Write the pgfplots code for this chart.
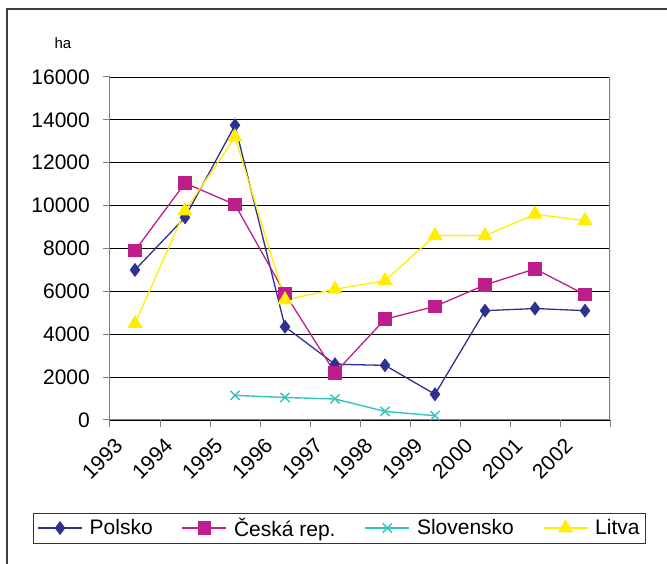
\documentclass[border=0pt]{standalone}
\usepackage{pgfplots}
\pgfplotsset{compat=1.18}
\usepackage{fontspec}
\setmainfont{Liberation Sans}
\definecolor{cpl}{RGB}{46,49,146}
\definecolor{ccz}{RGB}{190,30,140}
\definecolor{csk}{RGB}{51,196,190}
\definecolor{clt}{RGB}{255,238,0}
\begin{document}
\begin{tikzpicture}
\path[use as bounding box] (0,0) rectangle (667pt,564pt);
\draw[line width=1.3pt, black!75] (7pt,-5pt) -- (7pt,555pt) -- (680pt,555pt);
\node[font=\fontsize{15}{18}\selectfont] at (63pt,521pt) {ha};
\begin{axis}[
  at={(110pt,144pt)}, anchor=south west,
  scale only axis, width=500pt, height=343pt,
  xmin=0, xmax=10, ymin=0, ymax=16000,
  axis x line*=bottom, axis y line*=left,
  axis line style={draw=gray, line width=1pt},
  xtick={0,1,2,3,4,5,6,7,8,9,10},
  xticklabels={1993,1994,1995,1996,1997,1998,1999,2000,2001,2002,{}},
  ytick={0,2000,4000,6000,8000,10000,12000,14000,16000},
  scaled y ticks=false,
  ymajorgrids, major grid style={black, line width=0.9pt},
  tick align=outside, major tick length=7pt, tick style={gray, line width=1pt},
  /pgf/number format/assume math mode=true,
  /pgf/number format/1000 sep={},
  tick label style={font=\fontsize{21}{25}\selectfont},
  yticklabel style={inner sep=0pt, xshift=-13pt},
  xticklabel style={inner sep=0pt, xshift=9pt, yshift=-15pt, rotate=45, anchor=east},
  legend columns=4,
  legend style={at={(axis description cs:0.459,-0.315)}, anchor=center,
    draw=black!80, line width=0.8pt, font=\fontsize{21}{25}\selectfont,
    inner xsep=4pt, inner ysep=3pt,
    /tikz/every even column/.append style={column sep=27pt}},
  legend image code/.code={\draw[mark repeat=2,mark phase=2] plot coordinates {(0pt,0pt) (22pt,0pt) (44pt,0pt)}; \path (0pt,0pt) (49pt,0pt);},
]
\addplot[color=cpl, line width=1.3pt, mark=diamond*, mark size=6pt, mark options={solid}]
  coordinates {(0.5,7000) (1.5,9450) (2.5,13750) (3.5,4350) (4.5,2600) (5.5,2550) (6.5,1200) (7.5,5100) (8.5,5200) (9.5,5100)};
\addlegendentry{Polsko}
\addplot[color=ccz, line width=1.3pt, mark=square*, mark size=6.2pt, mark options={solid}]
  coordinates {(0.5,7900) (1.5,11050) (2.5,10050) (3.5,5900) (4.5,2200) (5.5,4700) (6.5,5300) (7.5,6300) (8.5,7050) (9.5,5850)};
\addlegendentry{Česká rep.}
\addplot[color=csk, line width=1.4pt, mark=x, mark size=6.5pt, mark options={solid}]
  coordinates {(2.5,1150) (3.5,1050) (4.5,980) (5.5,400) (6.5,200)};
\addlegendentry{Slovensko}
\addplot[color=clt, line width=1.3pt, mark=triangle*, mark size=7.5pt, mark options={solid}]
  coordinates {(0.5,4500) (1.5,9750) (2.5,13200) (3.5,5600) (4.5,6100) (5.5,6500) (6.5,8600) (7.5,8600) (8.5,9600) (9.5,9300)};
\addlegendentry{Litva}
\draw[gray, line width=1.5pt] (rel axis cs:1,0) -- (rel axis cs:1,1);
\end{axis}
\end{tikzpicture}
\end{document}
